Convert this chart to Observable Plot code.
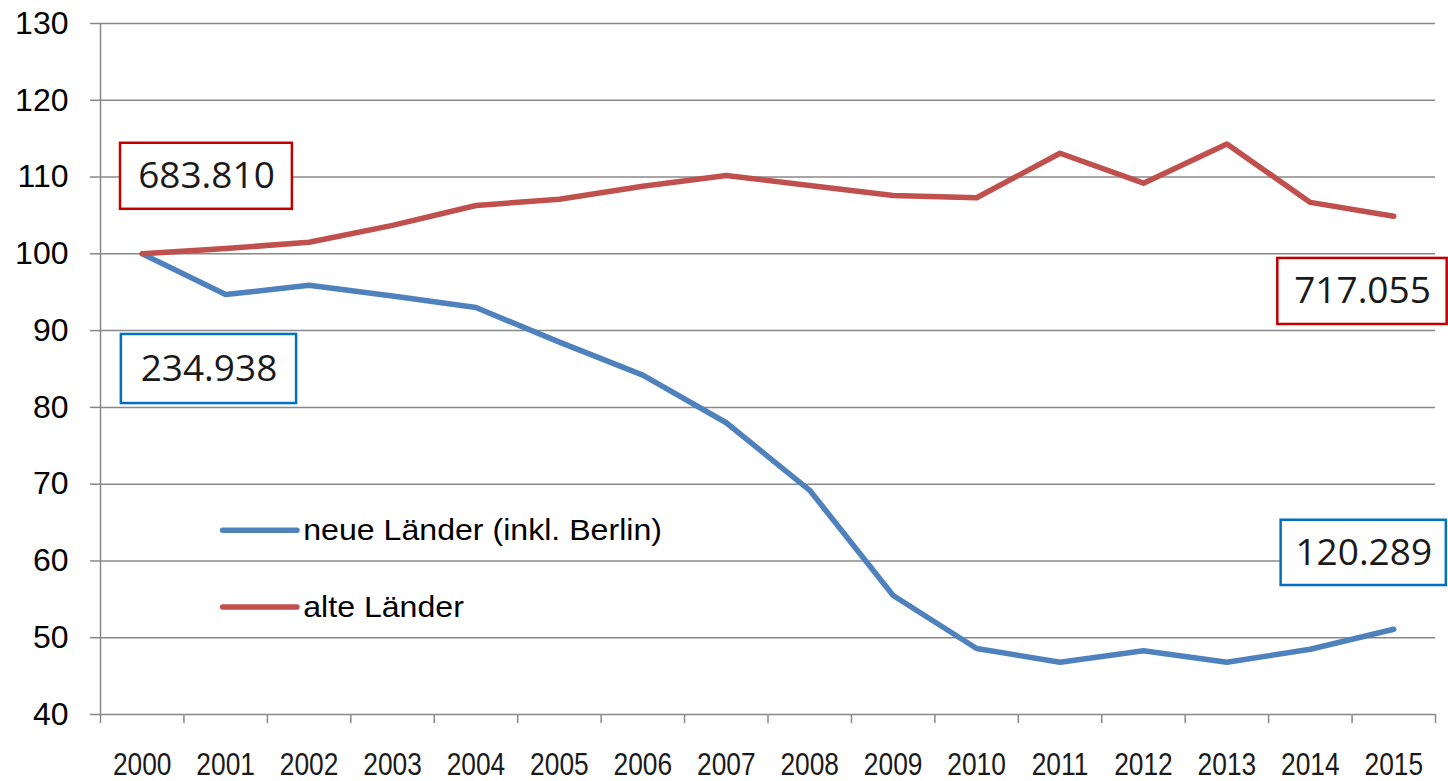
<!DOCTYPE html>
<html>
<head>
<meta charset="utf-8">
<script src="https://cdn.jsdelivr.net/npm/d3@7"></script>
<script src="https://cdn.jsdelivr.net/npm/@observablehq/plot@0.6"></script>
<style>
  html, body { margin: 0; padding: 0; background: #fff; }
  #chart svg { display: block; }
</style>
</head>
<body>
<div id="chart"></div>
<script>
// ---- data ----
const years = [2000, 2001, 2002, 2003, 2004, 2005, 2006, 2007, 2008, 2009, 2010, 2011, 2012, 2013, 2014, 2015];
const neueLaender = [100, 94.7, 95.9, 94.5, 93.0, 88.5, 84.2, 78.0, 69.2, 55.5, 48.6, 46.8, 48.3, 46.8, 48.5, 51.1];
const alteLaender = [100, 100.7, 101.5, 103.7, 106.3, 107.1, 108.8, 110.2, 108.9, 107.6, 107.3, 113.1, 109.2, 114.3, 106.7, 104.9];
const seriesNames = ["neue Länder (inkl. Berlin)", "alte Länder"];
const yTicks = [40, 50, 60, 70, 80, 90, 100, 110, 120, 130];
const boxLabels = ["683.810", "234.938", "717.055", "120.289"];

// ---- styles / layout ----
const colors = {neue: "#4F81BD", alte: "#C0504D"};
const boxColors = ["#C00000", "#0070C0", "#C00000", "#0070C0"];
const boxExtents = [
  {x1: 1999.74, x2: 2001.80, y1: 105.8, y2: 114.4},
  {x1: 1999.75, x2: 2001.85, y1: 80.5, y2: 89.5},
  {x1: 2013.61, x2: 2015.64, y1: 90.8, y2: 99.4},
  {x1: 2013.65, x2: 2015.63, y1: 56.8, y2: 65.3}
];
const legendPos = [{y: 64, color: colors.neue}, {y: 54, color: colors.alte}];
const legendX = {x1: 2000.97, x2: 2001.86, xt: 2001.93};

const rows = [];
years.forEach((yr, i) => {
  rows.push({year: yr, value: neueLaender[i], series: seriesNames[0]});
  rows.push({year: yr, value: alteLaender[i], series: seriesNames[1]});
});
const boxes = boxLabels.map((l, i) => ({label: l, color: boxColors[i], ...boxExtents[i]}));
const legend = seriesNames.map((n, i) => ({name: n, ...legendPos[i], ...legendX}));
const bandEdges = d3.range(years.length + 1).map(i => years[0] - 0.5 + i);
const grid = "#888888";

const chart = Plot.plot({
  width: 1448,
  height: 781,
  marginLeft: 100,
  marginRight: 13,
  marginTop: 23,
  marginBottom: 67,
  style: {fontFamily: "'Liberation Sans', Arial, sans-serif", background: "#fff", color: "#000"},
  x: {domain: [years[0] - 0.5, years[years.length - 1] + 0.5]},
  y: {domain: [40, 130]},
  marks: [
    Plot.ruleY(yTicks.slice(1), {stroke: grid, strokeWidth: 1.5}),
    Plot.ruleX([years[0] - 0.5], {stroke: grid, strokeWidth: 1.5}),
    Plot.ruleY([40], {stroke: grid, strokeWidth: 1.5}),
    Plot.axisY({ticks: yTicks, tickSize: 10, tickPadding: 22, stroke: grid, strokeWidth: 1.5, fontSize: 32, label: null, tickFormat: d => String(d), fill: "#000"}),
    Plot.axisX({ticks: bandEdges, tickSize: 9, stroke: grid, strokeWidth: 1.5, tickFormat: () => "", label: null}),
    Plot.axisX({ticks: years, tickSize: 0, tickPadding: 38, fontSize: 31, tickFormat: d => String(d), label: null, fill: "#1a1a1a", className: "xlab"}),
    Plot.line(rows, {x: "year", y: "value", z: "series", stroke: d => d.series === seriesNames[0] ? colors.neue : colors.alte, strokeWidth: 5.5, strokeLinejoin: "round", strokeLinecap: "round"}),
    Plot.rect(boxes, {x1: "x1", x2: "x2", y1: "y1", y2: "y2", fill: "#fff", stroke: "color", strokeWidth: 2.5}),
    Plot.text(boxes, {x: d => (d.x1 + d.x2) / 2, y: d => (d.y1 + d.y2) / 2, text: "label", fontSize: 37, fontFamily: "'Open Sans', sans-serif", fill: "#1a1a1a"}),
    Plot.ruleY(legend, {x1: "x1", x2: "x2", y: "y", stroke: "color", strokeWidth: 5.5, strokeLinecap: "round"}),
    Plot.text(legend, {x: "xt", y: "y", text: "name", textAnchor: "start", fontSize: 30, fill: "#000", className: "legtext"})
  ]
});
document.getElementById("chart").appendChild(chart);

// horizontal glyph scaling to mimic the reference's narrow/wide rendering
function stretch(selector, factor) {
  chart.querySelectorAll(selector).forEach(t => {
    const len = t.getComputedTextLength();
    if (len > 0) {
      t.setAttribute("textLength", (len * factor).toFixed(1));
      t.setAttribute("lengthAdjust", "spacingAndGlyphs");
    }
  });
}
stretch(".xlab text", 0.85);
stretch(".legtext text", 1.07);
</script>
</body>
</html>
